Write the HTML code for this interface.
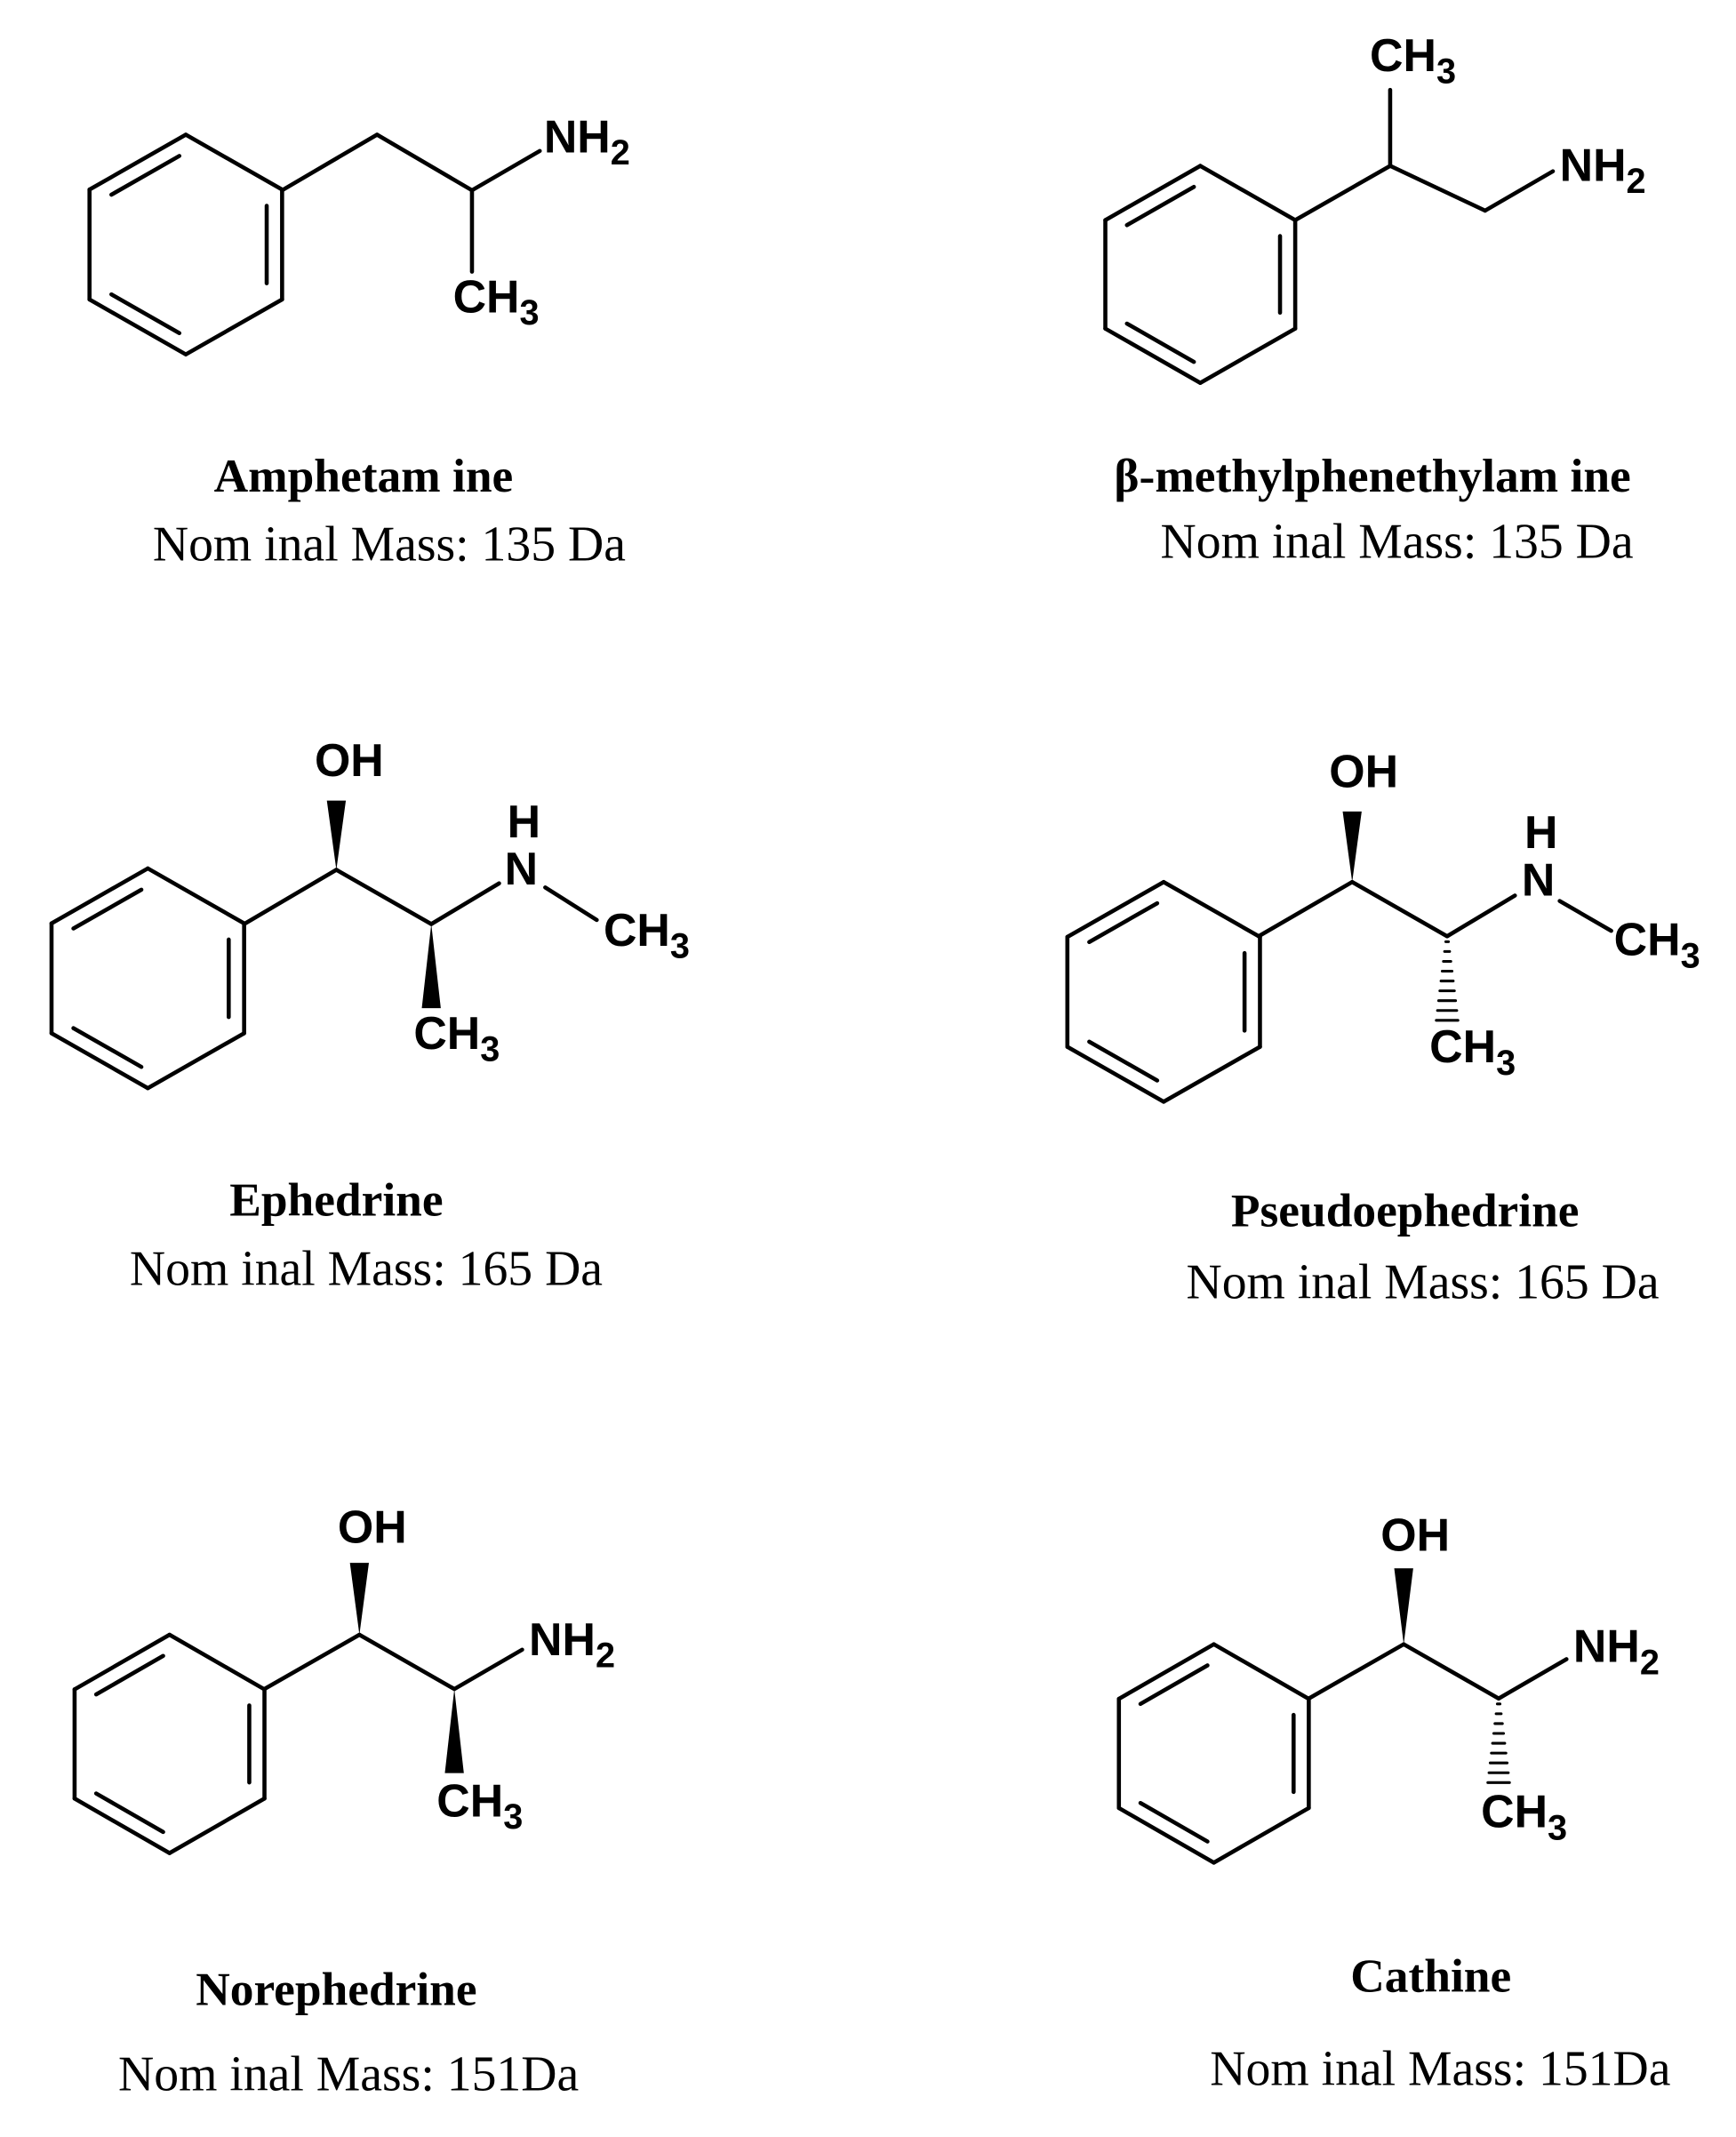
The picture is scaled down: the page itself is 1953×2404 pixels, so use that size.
<!DOCTYPE html>
<html><head><meta charset="utf-8">
<style>
html,body{margin:0;padding:0;background:#fff;}
svg{display:block;}
.a{font-family:"Liberation Sans",sans-serif;font-weight:bold;font-size:34px;fill:#000;}
.s{font-size:26px;}
.n{font-family:"Liberation Serif",serif;font-weight:bold;font-size:35px;fill:#000;text-anchor:middle;}
.m{font-family:"Liberation Serif",serif;font-size:36.5px;fill:#000;text-anchor:middle;}
</style></head><body>
<svg id="g" width="1953" height="2404" viewBox="0 0 1280 1575" xmlns="http://www.w3.org/2000/svg">
<g id="L" stroke="#000" stroke-width="3" fill="none" stroke-linecap="round"></g>
<g id="F" fill="#000"></g>
<!-- Amphetamine -->
<text class="a" x="401" y="112">NH<tspan class="s" dy="9">2</tspan></text>
<text class="a" x="334" y="230">CH<tspan class="s" dy="9">3</tspan></text>
<text class="n" x="268" y="362">Amphetam ine</text>
<text class="m" x="287" y="413">Nom inal Mass: 135 Da</text>
<!-- beta -->
<text class="a" x="1010" y="52">CH<tspan class="s" dy="9">3</tspan></text>
<text class="a" x="1150" y="133">NH<tspan class="s" dy="9">2</tspan></text>
<text class="n" x="1012" y="362">β-methylphenethylam ine</text>
<text class="m" x="1030" y="411">Nom inal Mass: 135 Da</text>
<!-- Ephedrine -->
<text class="a" x="232" y="572">OH</text>
<text class="a" x="374" y="617">H</text>
<text class="a" x="372" y="652">N</text>
<text class="a" x="445" y="697">CH<tspan class="s" dy="9">3</tspan></text>
<text class="a" x="305" y="773">CH<tspan class="s" dy="9">3</tspan></text>
<text class="n" x="248" y="896">Ephedrine</text>
<text class="m" x="270" y="947">Nom inal Mass: 165 Da</text>
<!-- Pseudoephedrine -->
<text class="a" x="980" y="580">OH</text>
<text class="a" x="1124" y="625">H</text>
<text class="a" x="1122" y="660">N</text>
<text class="a" x="1190" y="704">CH<tspan class="s" dy="9">3</tspan></text>
<text class="a" x="1054" y="783">CH<tspan class="s" dy="9">3</tspan></text>
<text class="n" x="1036" y="904">Pseudoephedrine</text>
<text class="m" x="1049" y="957">Nom inal Mass: 165 Da</text>
<!-- Norephedrine -->
<text class="a" x="249" y="1137">OH</text>
<text class="a" x="390" y="1220">NH<tspan class="s" dy="9">2</tspan></text>
<text class="a" x="322" y="1339">CH<tspan class="s" dy="9">3</tspan></text>
<text class="n" x="248" y="1478">Norephedrine</text>
<text class="m" x="257" y="1541">Nom inal Mass: 151Da</text>
<!-- Cathine -->
<text class="a" x="1018" y="1143">OH</text>
<text class="a" x="1160" y="1225">NH<tspan class="s" dy="9">2</tspan></text>
<text class="a" x="1092" y="1347">CH<tspan class="s" dy="9">3</tspan></text>
<text class="n" x="1055" y="1468">Cathine</text>
<text class="m" x="1062" y="1537">Nom inal Mass: 151Da</text>
</svg>
<script>
var L=document.getElementById('L'),F=document.getElementById('F'),NS='http://www.w3.org/2000/svg';
function line(x1,y1,x2,y2,w){var e=document.createElementNS(NS,'line');e.setAttribute('x1',x1);e.setAttribute('y1',y1);e.setAttribute('x2',x2);e.setAttribute('y2',y2);if(w)e.setAttribute('stroke-width',w);L.appendChild(e);}
function ring(cx,top,bot,hw){var h=(bot-top)/4,cy=(top+bot)/2;
var v=[[cx,top],[cx+hw,top+h],[cx+hw,bot-h],[cx,bot],[cx-hw,bot-h],[cx-hw,top+h]];
for(var i=0;i<6;i++){var a=v[i],b=v[(i+1)%6];line(a[0],a[1],b[0],b[1]);}
[[5,0],[1,2],[3,4]].forEach(function(p){var a=v[p[0]],b=v[p[1]];
var k=0.16;var ax=a[0]+(cx-a[0])*k,ay=a[1]+(cy-a[1])*k,bx=b[0]+(cx-b[0])*k,by=b[1]+(cy-b[1])*k;
var t=0.08;line(ax+(bx-ax)*t,ay+(by-ay)*t,bx-(bx-ax)*t,by-(by-ay)*t);});}
function chain(p){for(var i=0;i<p.length-1;i++)line(p[i][0],p[i][1],p[i+1][0],p[i+1][1]);}
function wedge(x1,y1,x2,y2,w){var e=document.createElementNS(NS,'polygon');
e.setAttribute('points',x1+','+y1+' '+(x2-w)+','+y2+' '+(x2+w)+','+y2);F.appendChild(e);}
function hash(x,y1,y2,w){var n=9;for(var i=0;i<n;i++){var t=i/(n-1),y=y1+(y2-y1)*t,hw=1+w*t;line(x-hw,y,x+hw,y,2);}}
ring(137,99,261,71);chain([[208,140],[278,99],[348,140],[398,111]]);line(348,140,348,200);
ring(885,122,282,70);chain([[955,162],[1025,122],[1095,155],[1145,126]]);line(1025,122,1025,66);
ring(109,640,802,71);chain([[180,681],[248,641],[318,681],[368,651]]);line(402,654,440,678);
wedge(248,641,248,590,7);wedge(318,681,318,743,7);
ring(858,650,812,71);chain([[928,690],[997,650],[1067,690],[1117,660]]);line(1150,664,1188,686);
wedge(997,650,997,598,7);hash(1067,694,752,7);
ring(125,1205,1366,70);chain([[195,1245],[265,1205],[335,1245],[385,1216]]);
wedge(265,1205,265,1152,7);wedge(335,1245,335,1307,7);
ring(895,1212,1373,70);chain([[965,1252],[1035,1212],[1105,1252],[1155,1223]]);
wedge(1035,1212,1035,1156,7);hash(1105,1256,1314,7);
</script>
</body></html>
